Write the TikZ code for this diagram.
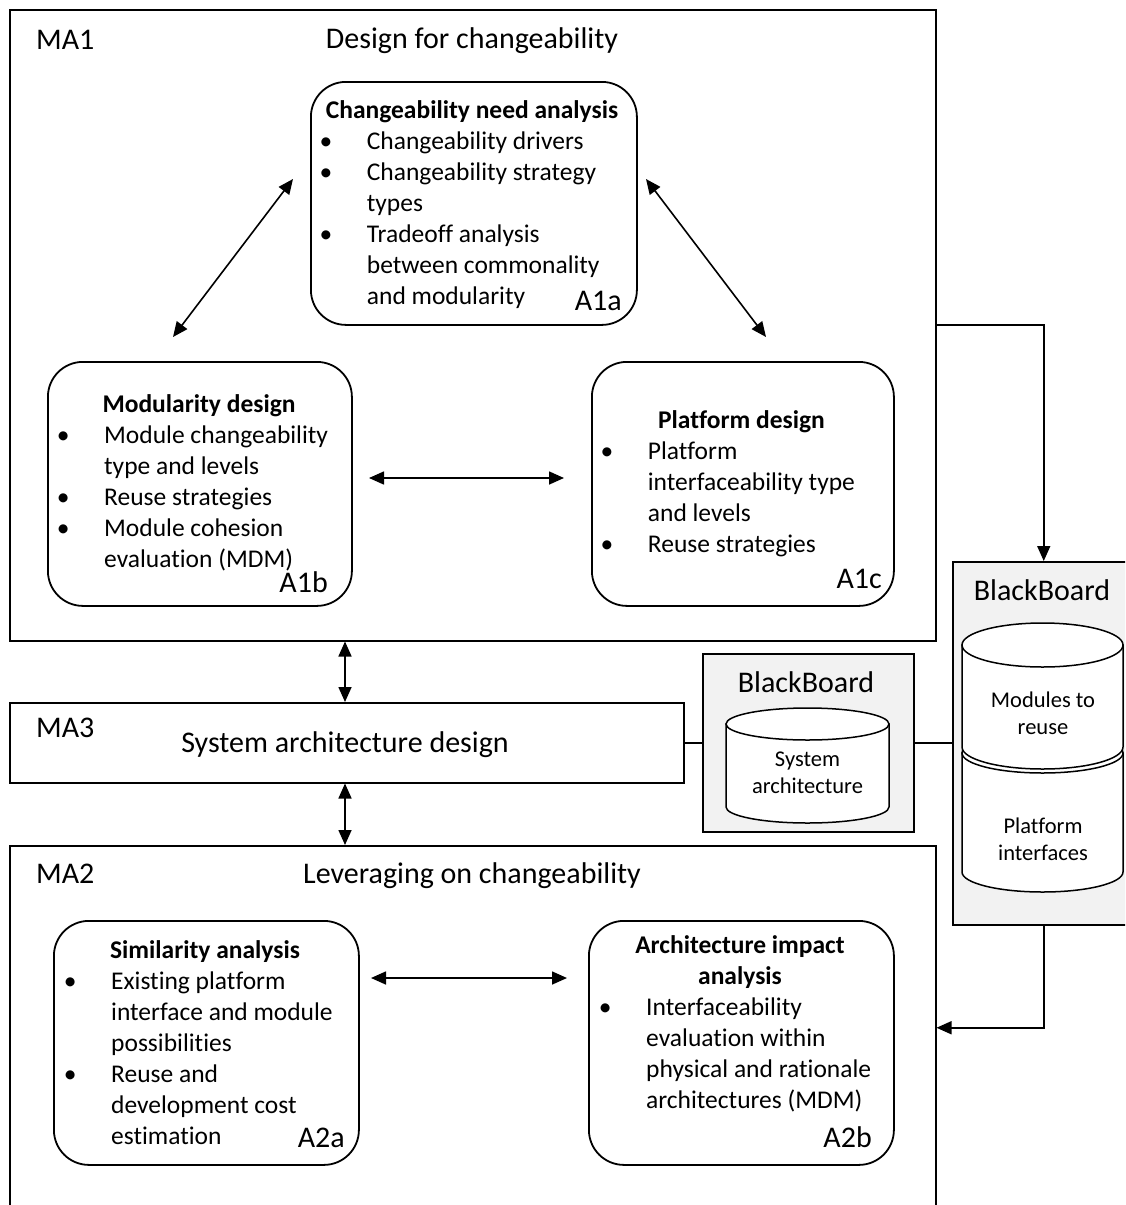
\documentclass[tikz,border=0pt]{standalone}
\usepackage{fontspec}
\setmainfont{Carlito}[Ligatures=NoCommon]
\usetikzlibrary{arrows.meta,calc}
\definecolor{bbgray}{HTML}{F2F2F2}
\newcommand\fbig{\fontsize{30}{36}\selectfont}
\newcommand\fbody{\fontsize{25.5}{31}\selectfont}
\newcommand\fcyl{\fontsize{22.5}{27}\selectfont}
\newcommand\myblt{\makebox[10pt][c]{\textbullet}\hspace*{36pt}}
\newcommand\myind{\hspace*{46pt}}
% cylinder: cx, half width, top-ellipse centre y, bottom-ellipse centre y, y radius
\newcommand\dbcyl[5]{%
  \filldraw[fill=white, line width=1.5pt] (#1-#2,#3) -- (#1-#2,#4) arc (180:0:#2 and #5) -- (#1+#2,#3) -- cycle;
  \filldraw[fill=white, line width=1.5pt] (#1,#3) ellipse (#2 and #5);
}
\tikzset{
  mabox/.style={draw, line width=1.5pt, anchor=north west, inner sep=0pt},
  abox/.style={draw, line width=1.8pt, rounded corners=35pt, anchor=north west, inner sep=0pt},
  bbbox/.style={draw, line width=1.5pt, fill=bbgray, anchor=north west, inner sep=0pt},
  conn/.style={line width=1.6pt},
  tip/.tip={Triangle[length=15pt,width=13pt]},
  dbl/.style={conn, tip-tip},
  one/.style={conn, -tip},
  lbl/.style={inner sep=0pt, font=\fbig},
  ttl/.style={inner sep=0pt, font=\fbody\bfseries},
  lst/.style={inner sep=0pt, font=\fbody, align=left, anchor=north west},
  cyltxt/.style={inner sep=0pt, font=\fcyl, align=center, anchor=north},
}
\begin{document}
\begin{tikzpicture}[x=1pt, y=-1pt]
\useasboundingbox (0,0) rectangle (1125,1205);
\fill[white] (0,0) rectangle (1125,1205);
\clip (0,0) rectangle (1125,1205);

% ---------- main boxes ----------
\node[mabox, minimum width=926pt, minimum height=631pt] (MA1) at (9,9) {};
\node[mabox, minimum width=674pt, minimum height=80pt] (MA3) at (9,702) {};
\node[mabox, minimum width=926pt, minimum height=364pt] (MA2) at (9,845) {};

\node[lbl, anchor=base west] (MA1lbl) at (36,49) {MA1};
\node[lbl, anchor=base] (MA1ttl) at (472,48) {Design for changeability};
\node[lbl, anchor=base west] (MA3lbl) at (36,737) {MA3};
\node[lbl, anchor=base] (MA3ttl) at (345,752) {System architecture design};
\node[lbl, anchor=base west] (MA2lbl) at (36,883) {MA2};
\node[lbl, anchor=base] (MA2ttl) at (472,883) {Leveraging on changeability};

% ---------- activity boxes ----------
\node[abox, minimum width=326pt, minimum height=243pt] (A1a) at (310,81) {};
\node[ttl, anchor=base] (A1attl) at (472,118) {Changeability need analysis};
\node[lst] (A1alst) at (320.7,127.3) {\strut\myblt Changeability drivers\\
\myblt Changeability strategy\\
\myind types\\
\myblt Tradeoff analysis\\
\myind between commonality\\
\myind and modularity};
\node[lbl, anchor=base east] (A1albl) at (622,310) {A1a};

\node[abox, minimum width=304pt, minimum height=244pt] (A1b) at (47,361) {};
\node[ttl, anchor=base] (A1bttl) at (199,412) {Modularity design};
\node[lst] (A1blst) at (58,421.3) {\strut\myblt Module changeability\\
\myind type and levels\\
\myblt Reuse strategies\\
\myblt Module cohesion\\
\myind evaluation (MDM)};
\node[lbl, anchor=base east] (A1blbl) at (328,592) {A1b};

\node[abox, minimum width=302pt, minimum height=244pt] (A1c) at (591,361) {};
\node[ttl, anchor=base] (A1cttl) at (741.5,428) {Platform design};
\node[lst] (A1clst) at (601.7,437.3) {\strut\myblt Platform\\
\myind interfaceability type\\
\myind and levels\\
\myblt Reuse strategies};
\node[lbl, anchor=base east] (A1clbl) at (882,588) {A1c};

\node[abox, minimum width=305pt, minimum height=244pt] (A2a) at (53,920) {};
\node[ttl, anchor=base] (A2attl) at (205,958) {Similarity analysis};
\node[lst] (A2alst) at (65,967.3) {\strut\myblt Existing platform\\
\myind interface and module\\
\myind possibilities\\
\myblt Reuse and\\
\myind development cost\\
\myind estimation};
\node[lbl, anchor=base east] (A2albl) at (345,1147) {A2a};

\node[abox, minimum width=305pt, minimum height=244pt] (A2b) at (588,920) {};
\node[ttl, align=center, anchor=north] (A2bttl) at (740,931.3) {\strut Architecture impact\\ analysis};
\node[lst] (A2blst) at (600,993.3) {\strut\myblt Interfaceability\\
\myind evaluation within\\
\myind physical and rationale\\
\myind architectures (MDM)};
\node[lbl, anchor=base east] (A2blbl) at (872,1147) {A2b};

% ---------- blackboards ----------
\node[bbbox, minimum width=211pt, minimum height=178pt] (BBs) at (702,653) {};
\node[lbl, anchor=base] (BBsttl) at (806,692) {BlackBoard};
\dbcyl{807.5}{81.5}{724}{807}{16}
\node[cyltxt] (SAtxt) at (807.5,747.1) {\strut System\\ architecture};

\node[bbbox, minimum width=182pt, minimum height=363pt] (BBb) at (952,561) {};
\node[lbl, anchor=base] (BBbttl) at (1042,600) {BlackBoard};
\dbcyl{1042.5}{80.5}{753}{872}{20}
\dbcyl{1042.5}{80.5}{645}{747}{22}
\node[cyltxt] (MRtxt) at (1043,688.1) {\strut Modules to\\ reuse};
\node[cyltxt] (PItxt) at (1043,814.1) {\strut Platform\\ interfaces};

% ---------- connectors ----------
\coordinate (p1) at (293,179);
\coordinate (p2) at (173,337);
\coordinate (p3) at (646,179);
\coordinate (p4) at (766,337);
\coordinate (p5) at (369,478);
\coordinate (p6) at (564,478);
\coordinate (p7) at (371,978);
\coordinate (p8) at (567,978);
\coordinate (sx) at (345,0);

\draw[dbl] (p1) -- (p2);
\draw[dbl] (p3) -- (p4);
\draw[dbl] (p5) -- (p6);
\draw[dbl] (p7) -- (p8);
\draw[dbl] (MA1.south -| sx) -- (MA3.north -| sx);
\draw[dbl] (MA3.south -| sx) -- (MA2.north -| sx);

\draw[conn] (MA3.east) -- (BBs.west);
\draw[conn] (BBs.east) -- (BBs.east -| BBb.west);
\draw[one] (MA1.east) -| (BBb.north);
\draw[one] (BBb.south) |- (MA2.east);
\end{tikzpicture}
\end{document}
